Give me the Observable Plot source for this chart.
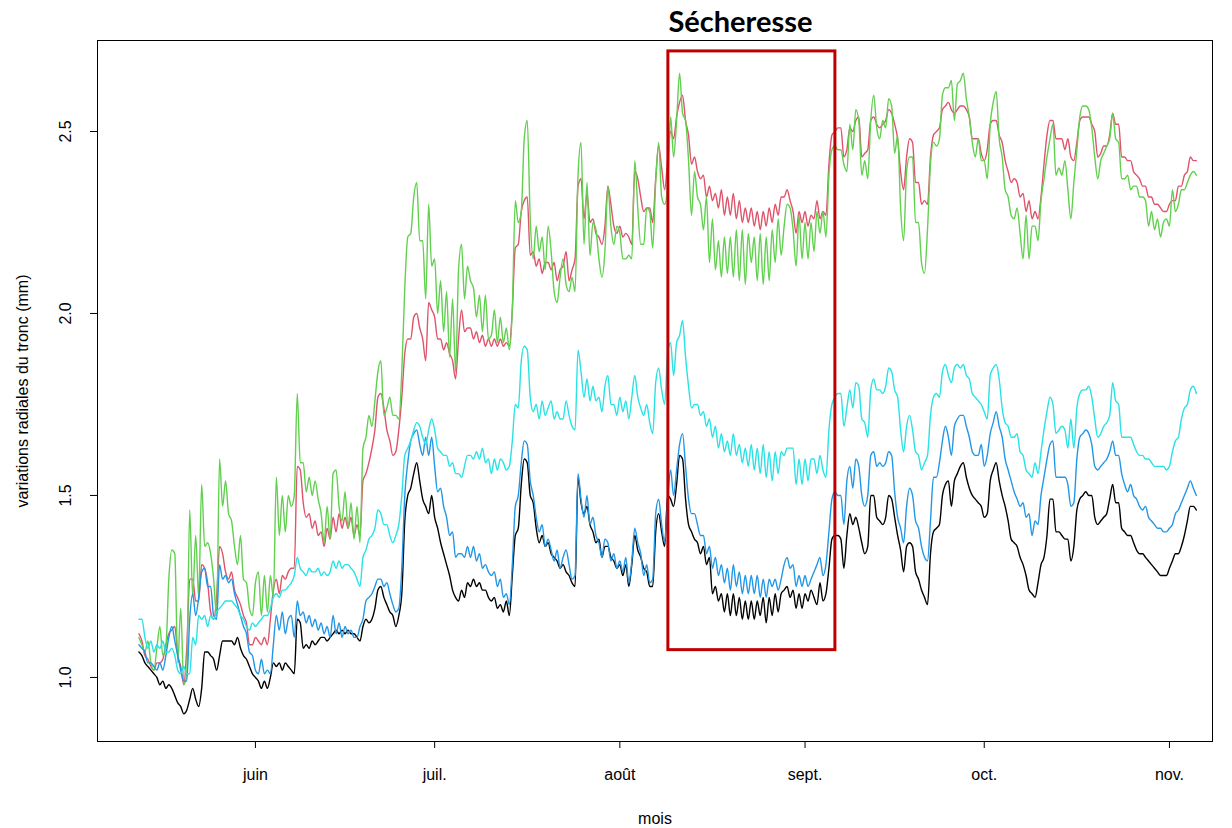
<!DOCTYPE html>
<html><head><meta charset="utf-8">
<script src="https://cdn.jsdelivr.net/npm/d3@7"></script>
<script src="https://cdn.jsdelivr.net/npm/@observablehq/plot@0.6"></script>
<style>
html,body{margin:0;padding:0;background:#fff;}
#chart{width:1232px;height:828px;}
</style></head><body><div id="chart"></div>
<script>
// ---- time base: one sample every 12 h, first sample 12 May 12:00 ----
const firstSample = "2019-05-12T12:00:00Z";
const stepHours = 12;

// ---- series (mm), half-day samples ----
const black = [
1.07,1.06,1.04,1.03,1.02,1.01,1.00,0.98,0.99,0.97,0.98,0.97,0.95,0.93,0.92,0.90,0.91,0.94,0.97,0.94,0.92,0.97,1.07,1.07,1.06,1.05,1.02,1.06,1.10,1.10,1.10,1.10,1.09,1.11,1.08,1.06,1.05,1.03,1.01,1.00,0.99,0.97,0.99,0.97,1.00,1.04,1.03,1.04,1.02,1.04,1.03,1.02,1.01,1.16,1.15,
1.08,1.09,1.08,1.10,1.09,1.10,1.11,1.11,1.10,1.11,1.12,1.13,1.12,1.13,1.12,1.13,1.12,1.12,1.11,1.10,1.14,1.16,1.15,1.16,1.19,1.24,1.25,1.22,1.20,1.18,1.17,1.14,1.17,1.23,1.43,1.50,1.52,1.56,1.59,1.54,1.49,1.47,1.45,1.50,1.44,1.41,1.37,1.34,1.31,1.28,1.24,1.22,1.21,1.24,1.22,1.26,
1.25,1.27,1.25,1.26,1.24,1.24,1.22,1.21,1.22,1.19,1.20,1.18,1.21,1.17,1.28,1.39,1.41,1.53,1.60,1.59,1.50,1.48,1.41,1.37,1.39,1.36,1.37,1.34,1.33,1.32,1.30,1.31,1.29,1.28,1.26,1.25,1.55,1.48,1.45,1.47,1.42,1.40,1.37,1.38,1.33,1.36,1.36,1.33,1.32,1.30,1.31,1.28,1.31,1.25,1.31,1.39,1.35,1.33,1.30,1.29,1.25,
1.25,1.40,1.45,1.40,1.36,1.50,1.49,1.47,1.53,1.61,1.60,1.49,1.42,1.40,1.38,1.37,1.34,1.36,1.31,1.33,1.23,1.25,1.21,1.23,1.18,1.23,1.17,1.23,1.17,1.22,1.16,1.21,1.16,1.21,1.16,1.21,1.17,1.22,1.15,1.22,1.17,1.23,1.18,1.23,1.24,1.25,1.22,1.24,1.19,1.23,1.19,1.23,1.21,1.24,1.22,1.20,1.26,1.21,1.23,1.30,1.38,
1.39,1.39,1.38,1.30,1.39,1.45,1.42,1.44,1.41,1.37,1.34,1.36,1.50,1.50,1.44,1.43,1.42,1.44,1.50,1.49,1.44,1.39,1.35,1.29,1.36,1.37,1.36,1.29,1.27,1.24,1.22,1.20,1.34,1.40,1.41,1.42,1.50,1.53,1.54,1.47,1.54,1.56,1.58,1.59,1.55,1.52,1.50,1.49,1.48,1.47,1.44,1.45,1.54,1.57,1.59,1.54,1.50,1.47,1.43,1.38,
1.37,1.36,1.33,1.31,1.28,1.24,1.23,1.22,1.26,1.31,1.33,1.39,1.49,1.49,1.40,1.40,1.39,1.38,1.38,1.32,1.36,1.46,1.49,1.50,1.51,1.50,1.50,1.44,1.42,1.43,1.44,1.45,1.49,1.53,1.48,1.48,1.41,1.40,1.39,1.39,1.37,1.35,1.34,1.34,1.33,1.32,1.31,1.30,1.29,1.28,1.28,1.28,1.30,1.32,1.34,1.34,1.36,1.39,1.43,1.47,1.47,1.46
];
const red = [
1.12,1.10,1.06,1.05,1.03,1.02,1.04,1.04,1.05,1.09,1.12,1.13,1.14,1.06,1.03,0.98,1.08,1.27,1.27,1.21,1.21,1.31,1.30,1.26,1.18,1.16,1.22,1.36,1.34,1.29,1.27,1.29,1.24,1.22,1.20,1.17,1.15,1.09,1.09,1.11,1.10,1.09,1.11,1.09,1.16,1.24,1.27,1.23,1.28,1.27,1.29,1.30,1.30,1.58,1.57,
1.48,1.44,1.45,1.41,1.43,1.39,1.40,1.36,1.41,1.38,1.44,1.40,1.45,1.41,1.44,1.41,1.44,1.39,1.42,1.39,1.54,1.56,1.59,1.63,1.68,1.77,1.78,1.74,1.68,1.65,1.61,1.62,1.68,1.77,1.89,1.93,1.93,1.99,2.00,1.96,1.93,1.87,2.03,2.01,1.99,1.93,1.93,1.90,1.92,1.89,1.87,1.82,1.93,2.01,1.95,1.96,
1.96,1.93,1.95,1.92,1.94,1.91,1.93,1.91,1.93,1.91,1.93,1.91,1.92,1.91,2.01,2.18,2.19,2.28,2.31,2.32,2.16,2.17,2.13,2.15,2.11,2.14,2.14,2.12,2.14,2.09,2.12,2.13,2.17,2.09,2.12,2.15,2.35,2.37,2.26,2.33,2.25,2.26,2.22,2.21,2.19,2.24,2.35,2.30,2.24,2.22,2.24,2.21,2.22,2.21,2.19,2.39,2.37,2.32,2.28,2.29,2.29,
2.25,2.37,2.46,2.40,2.34,2.42,2.50,2.48,2.54,2.58,2.60,2.53,2.49,2.41,2.43,2.39,2.37,2.38,2.32,2.35,2.31,2.33,2.29,2.34,2.27,2.32,2.27,2.33,2.26,2.31,2.25,2.29,2.25,2.29,2.24,2.28,2.23,2.28,2.24,2.29,2.25,2.30,2.27,2.32,2.32,2.34,2.31,2.28,2.22,2.28,2.25,2.28,2.24,2.27,2.26,2.31,2.26,2.28,2.27,2.41,2.49,
2.50,2.51,2.51,2.43,2.45,2.51,2.50,2.53,2.54,2.43,2.44,2.45,2.53,2.54,2.52,2.51,2.52,2.53,2.56,2.55,2.52,2.48,2.39,2.34,2.43,2.48,2.47,2.36,2.36,2.30,2.31,2.30,2.43,2.49,2.50,2.51,2.56,2.57,2.58,2.56,2.55,2.56,2.57,2.57,2.56,2.54,2.48,2.48,2.48,2.44,2.42,2.45,2.52,2.53,2.53,2.49,2.47,2.42,2.39,2.36,
2.37,2.36,2.32,2.33,2.28,2.31,2.26,2.28,2.26,2.32,2.41,2.49,2.53,2.53,2.48,2.48,2.48,2.45,2.48,2.43,2.42,2.47,2.53,2.54,2.54,2.54,2.52,2.50,2.43,2.44,2.46,2.46,2.49,2.55,2.52,2.52,2.43,2.43,2.42,2.42,2.39,2.38,2.37,2.35,2.35,2.32,2.32,2.30,2.30,2.29,2.28,2.28,2.30,2.31,2.31,2.35,2.35,2.38,2.39,2.43,2.42,2.42
];
const green = [
1.11,1.09,1.07,1.10,1.04,1.02,1.08,1.14,1.06,1.08,1.27,1.35,1.34,1.04,1.19,0.98,1.01,1.46,1.22,1.39,1.22,1.53,1.36,1.37,1.34,1.27,1.17,1.60,1.47,1.54,1.45,1.43,1.36,1.31,1.39,1.27,1.26,1.19,1.17,1.26,1.29,1.17,1.28,1.18,1.28,1.22,1.55,1.39,1.50,1.40,1.50,1.47,1.50,1.78,1.59,
1.59,1.51,1.55,1.50,1.54,1.49,1.45,1.37,1.47,1.38,1.56,1.57,1.47,1.43,1.51,1.41,1.48,1.38,1.47,1.37,1.63,1.66,1.72,1.69,1.76,1.84,1.87,1.72,1.74,1.77,1.72,1.72,1.71,1.84,2.07,2.21,2.22,2.32,2.36,2.20,2.20,2.04,2.30,2.13,2.15,2.00,2.09,1.95,2.06,1.88,2.04,1.84,2.12,2.19,2.04,2.13,
2.09,2.07,1.99,2.05,1.95,2.05,1.93,1.94,2.01,1.92,1.99,1.92,1.96,1.90,2.01,2.31,2.25,2.28,2.48,2.53,2.26,2.15,2.24,2.17,2.21,2.12,2.24,2.17,2.06,2.03,2.10,2.15,2.08,2.06,2.10,2.06,2.38,2.47,2.19,2.36,2.16,2.25,2.23,2.15,2.10,2.17,2.35,2.24,2.19,2.24,2.22,2.15,2.15,2.16,2.15,2.42,2.29,2.19,2.19,2.29,2.28,
2.18,2.36,2.47,2.32,2.30,2.35,2.54,2.43,2.53,2.66,2.55,2.53,2.42,2.27,2.39,2.32,2.30,2.23,2.32,2.14,2.26,2.12,2.20,2.10,2.21,2.11,2.21,2.10,2.23,2.09,2.23,2.08,2.22,2.14,2.21,2.09,2.22,2.08,2.21,2.09,2.23,2.14,2.26,2.16,2.24,2.30,2.29,2.23,2.13,2.27,2.15,2.25,2.15,2.25,2.17,2.28,2.22,2.28,2.21,2.38,2.45,
2.46,2.45,2.45,2.41,2.39,2.52,2.45,2.56,2.53,2.38,2.42,2.37,2.53,2.60,2.51,2.48,2.53,2.51,2.59,2.57,2.44,2.49,2.29,2.20,2.39,2.43,2.43,2.25,2.25,2.14,2.11,2.23,2.41,2.47,2.46,2.48,2.60,2.62,2.62,2.64,2.53,2.63,2.64,2.66,2.59,2.54,2.47,2.43,2.48,2.42,2.42,2.37,2.52,2.58,2.61,2.48,2.43,2.34,2.32,2.27,
2.26,2.29,2.22,2.15,2.27,2.15,2.24,2.24,2.20,2.31,2.37,2.43,2.48,2.52,2.38,2.40,2.38,2.42,2.34,2.26,2.36,2.45,2.54,2.57,2.57,2.56,2.51,2.43,2.37,2.42,2.44,2.46,2.48,2.55,2.48,2.47,2.37,2.37,2.38,2.34,2.35,2.35,2.32,2.32,2.31,2.24,2.28,2.23,2.26,2.21,2.25,2.26,2.24,2.34,2.28,2.30,2.34,2.34,2.36,2.38,2.39,2.38
];
const blue = [
1.09,1.08,1.07,1.04,1.04,1.03,1.02,1.04,1.02,1.06,1.11,1.14,1.10,1.06,1.02,0.99,0.99,1.16,1.23,1.17,1.22,1.29,1.30,1.25,1.25,1.17,1.16,1.31,1.27,1.28,1.26,1.27,1.23,1.20,1.17,1.14,1.12,1.07,1.06,1.02,1.01,1.05,1.01,1.02,1.01,1.09,1.17,1.13,1.18,1.12,1.16,1.17,1.11,1.21,1.17,
1.18,1.15,1.17,1.14,1.16,1.13,1.15,1.12,1.14,1.11,1.17,1.12,1.15,1.11,1.14,1.12,1.13,1.11,1.11,1.14,1.16,1.21,1.22,1.23,1.25,1.27,1.27,1.25,1.26,1.23,1.20,1.18,1.19,1.30,1.50,1.59,1.65,1.67,1.68,1.64,1.61,1.66,1.61,1.66,1.58,1.51,1.52,1.47,1.44,1.39,1.40,1.33,1.34,1.34,1.33,1.36,
1.33,1.36,1.32,1.34,1.30,1.31,1.29,1.28,1.29,1.25,1.27,1.22,1.23,1.20,1.31,1.47,1.50,1.59,1.65,1.64,1.54,1.50,1.44,1.40,1.42,1.36,1.38,1.35,1.32,1.35,1.30,1.33,1.35,1.31,1.27,1.28,1.56,1.49,1.44,1.50,1.42,1.44,1.39,1.37,1.33,1.38,1.37,1.32,1.34,1.30,1.32,1.29,1.33,1.26,1.32,1.41,1.37,1.34,1.28,1.31,1.26,
1.27,1.45,1.49,1.42,1.37,1.49,1.57,1.50,1.57,1.64,1.67,1.58,1.49,1.45,1.45,1.42,1.39,1.39,1.34,1.36,1.30,1.33,1.28,1.31,1.26,1.30,1.24,1.31,1.25,1.29,1.23,1.28,1.23,1.28,1.23,1.28,1.22,1.27,1.22,1.27,1.25,1.27,1.24,1.27,1.31,1.33,1.30,1.31,1.25,1.28,1.25,1.28,1.25,1.27,1.29,1.31,1.33,1.28,1.31,1.40,1.49,
1.51,1.50,1.50,1.42,1.54,1.58,1.52,1.60,1.58,1.50,1.47,1.50,1.61,1.62,1.58,1.59,1.58,1.59,1.62,1.61,1.51,1.44,1.41,1.37,1.47,1.52,1.50,1.43,1.41,1.36,1.33,1.32,1.43,1.55,1.55,1.59,1.65,1.69,1.66,1.61,1.69,1.71,1.72,1.72,1.69,1.66,1.62,1.61,1.61,1.64,1.58,1.61,1.67,1.70,1.73,1.69,1.66,1.60,1.57,1.54,
1.51,1.49,1.47,1.48,1.44,1.45,1.39,1.43,1.42,1.50,1.55,1.60,1.64,1.65,1.55,1.55,1.55,1.55,1.53,1.47,1.48,1.60,1.66,1.67,1.68,1.67,1.64,1.58,1.57,1.58,1.59,1.60,1.62,1.65,1.61,1.61,1.56,1.53,1.51,1.53,1.50,1.49,1.47,1.46,1.47,1.44,1.43,1.42,1.41,1.41,1.40,1.40,1.41,1.42,1.45,1.46,1.48,1.50,1.52,1.54,1.52,1.50
];
const cyan = [
1.16,1.16,1.11,1.08,1.10,1.07,1.09,1.08,1.10,1.07,1.07,1.08,1.06,1.02,1.01,1.03,1.01,1.01,1.11,1.09,1.17,1.16,1.17,1.14,1.17,1.16,1.18,1.19,1.20,1.21,1.21,1.21,1.20,1.19,1.17,1.16,1.14,1.13,1.15,1.14,1.15,1.16,1.17,1.17,1.19,1.22,1.23,1.22,1.24,1.24,1.25,1.26,1.28,1.33,1.30,
1.29,1.28,1.30,1.29,1.29,1.30,1.28,1.29,1.28,1.29,1.32,1.30,1.32,1.30,1.31,1.31,1.30,1.29,1.27,1.25,1.33,1.35,1.38,1.39,1.41,1.46,1.45,1.42,1.42,1.39,1.37,1.39,1.42,1.50,1.61,1.63,1.65,1.68,1.70,1.69,1.66,1.64,1.68,1.71,1.68,1.63,1.62,1.61,1.61,1.58,1.59,1.56,1.56,1.55,1.58,1.61,
1.61,1.60,1.62,1.60,1.63,1.59,1.60,1.56,1.60,1.57,1.60,1.59,1.57,1.58,1.65,1.75,1.74,1.87,1.91,1.90,1.77,1.73,1.75,1.71,1.76,1.72,1.74,1.76,1.71,1.73,1.71,1.71,1.76,1.72,1.69,1.68,1.90,1.84,1.77,1.82,1.76,1.80,1.76,1.77,1.73,1.80,1.83,1.75,1.75,1.72,1.77,1.73,1.76,1.71,1.77,1.83,1.77,1.74,1.72,1.75,1.70,
1.67,1.81,1.85,1.79,1.75,1.89,1.92,1.83,1.92,1.94,1.98,1.88,1.80,1.74,1.75,1.75,1.72,1.73,1.69,1.71,1.66,1.69,1.63,1.67,1.62,1.65,1.61,1.67,1.61,1.64,1.59,1.63,1.58,1.64,1.57,1.63,1.56,1.64,1.55,1.62,1.54,1.62,1.56,1.62,1.61,1.63,1.63,1.63,1.53,1.60,1.53,1.60,1.54,1.60,1.60,1.56,1.61,1.57,1.55,1.68,1.75,
1.77,1.78,1.78,1.69,1.74,1.79,1.74,1.81,1.80,1.71,1.70,1.66,1.79,1.82,1.79,1.79,1.78,1.80,1.85,1.84,1.79,1.77,1.68,1.62,1.69,1.72,1.68,1.62,1.61,1.57,1.59,1.61,1.72,1.77,1.78,1.77,1.84,1.86,1.83,1.81,1.85,1.86,1.85,1.86,1.83,1.82,1.78,1.77,1.76,1.75,1.73,1.71,1.83,1.85,1.86,1.82,1.74,1.70,1.69,1.66,
1.66,1.67,1.62,1.61,1.57,1.56,1.55,1.59,1.56,1.62,1.68,1.73,1.77,1.75,1.67,1.68,1.69,1.68,1.63,1.71,1.63,1.74,1.78,1.79,1.79,1.80,1.77,1.71,1.66,1.67,1.69,1.70,1.72,1.81,1.76,1.75,1.66,1.66,1.66,1.66,1.64,1.62,1.61,1.61,1.60,1.60,1.59,1.58,1.58,1.58,1.58,1.57,1.58,1.62,1.65,1.66,1.71,1.74,1.75,1.79,1.80,1.78
];

// drawing order and colours (R default palette)
const seriesOrder  = ["black", "red", "green", "blue", "cyan"];
const seriesColors = ["#000000", "#DF536B", "#61D04F", "#2297E6", "#28E2E5"];

// axes
const monthTicks  = ["2019-06-01", "2019-07-01", "2019-08-01", "2019-09-01", "2019-10-01", "2019-11-01"];
const monthLabels = ["juin", "juil.", "août", "sept.", "oct.", "nov."];
const yTicks      = [1.0, 1.5, 2.0, 2.5];
const yTickLabels = ["1.0", "1.5", "2.0", "2.5"];
const xDomain = ["2019-05-05T13:30:00Z", "2019-11-08T05:00:00Z"];
const yDomain = [0.824, 2.75];

// drought window
const droughtStart = "2019-08-09T03:00:00Z";
const droughtEnd   = "2019-09-06T02:00:00Z";
const droughtLow   = 1.075;
const droughtHigh  = 2.72;
const titleText    = "Sécheresse";
const xTitle = "mois";
const yTitle = "variations radiales du tronc (mm)";

// ---------------------------------------------------------
const t0 = new Date(firstSample).getTime();
const step = stepHours * 3600 * 1000;
const valuesBy = {black, red, green, blue, cyan};
const rows = name => valuesBy[name].map((v, i) => ({t: new Date(t0 + i * step), v}));

const tickDates = monthTicks.map(d => new Date(d + "T00:00:00Z"));
const labelOf = d => monthLabels[tickDates.findIndex(t => t.getTime() === d.getTime())];

const font = "'Liberation Sans', Arial, sans-serif";

const lineMarks = seriesOrder.map((name, k) =>
  Plot.line(rows(name), {x: "t", y: "v", stroke: seriesColors[k], strokeWidth: 1.4, curve: "monotone-x"})
);

const chart = Plot.plot({
  width: 1232,
  height: 828,
  marginLeft: 97,
  marginRight: 20,
  marginTop: 40,
  marginBottom: 87,
  x: {type: "utc", domain: xDomain.map(d => new Date(d))},
  y: {domain: yDomain},
  style: {fontFamily: font, background: "white", color: "black"},
  marks: [
    ...lineMarks,
    Plot.rect([{x1: new Date(droughtStart), x2: new Date(droughtEnd), y1: droughtLow, y2: droughtHigh}],
      {x1: "x1", x2: "x2", y1: "y1", y2: "y2", fill: "none", stroke: "#C00000", strokeWidth: 3}),
    Plot.frame({stroke: "black", strokeWidth: 1}),
    Plot.axisX({ticks: tickDates, tickFormat: labelOf, tickSize: 7, tickPadding: 20, fontSize: 16, label: null, stroke: "black"}),
    Plot.axisY({ticks: yTicks, tickFormat: () => "", tickSize: 7, label: null, stroke: "black"}),
    Plot.text(yTicks, {y: d => d, text: (d, i) => yTickLabels[i], frameAnchor: "left", dx: -32, rotate: -90,
      fontSize: 16, textAnchor: "middle", lineAnchor: "middle"}),
    Plot.text([yTitle], {frameAnchor: "left", dx: -75, rotate: -90, fontSize: 16, textAnchor: "middle", lineAnchor: "middle"}),
    Plot.text([xTitle], {frameAnchor: "bottom", dy: 77, fontSize: 16, textAnchor: "middle", lineAnchor: "middle"}),
    Plot.text([{t: new Date(droughtStart), s: titleText}], {x: "t", text: "s", frameAnchor: "top", dy: -18, textAnchor: "start",
      fontSize: 29, fontWeight: "bold", fontFamily: "Lato, 'Open Sans', sans-serif", lineAnchor: "middle"})
  ]
});
document.getElementById("chart").appendChild(chart);
</script>
</body></html>
